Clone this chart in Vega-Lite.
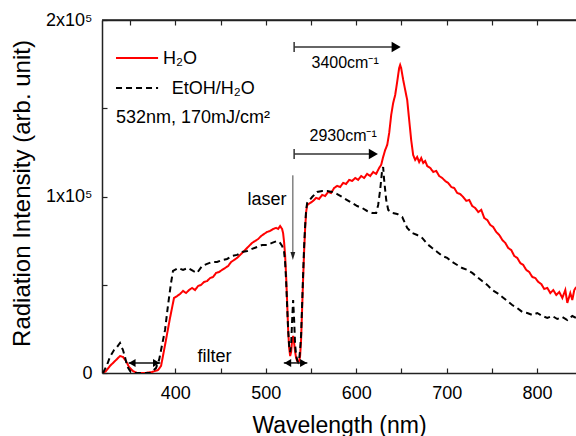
{
  "$schema": "https://vega.github.io/schema/vega-lite/v6.json",
  "width": 474,
  "height": 353,
  "autosize": "none",
  "padding": {"left": 102, "top": 20, "right": 0, "bottom": 63},
  "config": {"view": {"stroke": null}, "font": "Liberation Sans"},
  "datasets": {
    "curves": [
      {"wl":320.1,"I":0,"s":"H2O"},{"wl":323.4,"I":1100,"s":"H2O"},{"wl":327.8,"I":4000,"s":"H2O"},{"wl":333.4,"I":6800,"s":"H2O"},{"wl":338.9,"I":9600,"s":"H2O"},{"wl":342.2,"I":9100,"s":"H2O"},{"wl":345.5,"I":6800,"s":"H2O"},{"wl":348.9,"I":3400,"s":"H2O"},{"wl":353.3,"I":1100,"s":"H2O"},{"wl":357.7,"I":0,"s":"H2O"},{"wl":366.6,"I":0,"s":"H2O"},{"wl":374.3,"I":600,"s":"H2O"},{"wl":381.0,"I":1700,"s":"H2O"},{"wl":384.3,"I":4000,"s":"H2O"},{"wl":388.7,"I":15900,"s":"H2O"},{"wl":394.2,"I":31200,"s":"H2O"},{"wl":398.6,"I":42500,"s":"H2O"},{"wl":402.0,"I":43600,"s":"H2O"},{"wl":405.3,"I":44800,"s":"H2O"},{"wl":408.6,"I":46500,"s":"H2O"},{"wl":411.9,"I":45300,"s":"H2O"},{"wl":415.2,"I":47000,"s":"H2O"},{"wl":418.6,"I":48200,"s":"H2O"},{"wl":421.9,"I":47000,"s":"H2O"},{"wl":425.2,"I":49300,"s":"H2O"},{"wl":428.5,"I":49900,"s":"H2O"},{"wl":431.8,"I":51600,"s":"H2O"},{"wl":435.2,"I":52100,"s":"H2O"},{"wl":438.5,"I":53800,"s":"H2O"},{"wl":441.8,"I":54400,"s":"H2O"},{"wl":445.1,"I":56700,"s":"H2O"},{"wl":448.4,"I":57200,"s":"H2O"},{"wl":451.7,"I":58400,"s":"H2O"},{"wl":455.1,"I":59500,"s":"H2O"},{"wl":458.4,"I":60600,"s":"H2O"},{"wl":461.7,"I":62900,"s":"H2O"},{"wl":465.0,"I":64000,"s":"H2O"},{"wl":468.3,"I":65200,"s":"H2O"},{"wl":471.7,"I":66900,"s":"H2O"},{"wl":475.0,"I":68600,"s":"H2O"},{"wl":478.3,"I":70300,"s":"H2O"},{"wl":481.6,"I":72000,"s":"H2O"},{"wl":484.9,"I":73700,"s":"H2O"},{"wl":488.3,"I":74800,"s":"H2O"},{"wl":491.6,"I":75900,"s":"H2O"},{"wl":494.9,"I":77600,"s":"H2O"},{"wl":498.2,"I":78800,"s":"H2O"},{"wl":501.5,"I":79900,"s":"H2O"},{"wl":504.8,"I":80500,"s":"H2O"},{"wl":508.2,"I":81600,"s":"H2O"},{"wl":511.5,"I":82200,"s":"H2O"},{"wl":513.7,"I":81600,"s":"H2O"},{"wl":515.9,"I":83300,"s":"H2O"},{"wl":518.1,"I":81600,"s":"H2O"},{"wl":519.2,"I":79300,"s":"H2O"},{"wl":520.3,"I":74200,"s":"H2O"},{"wl":521.4,"I":66900,"s":"H2O"},{"wl":522.5,"I":55500,"s":"H2O"},{"wl":523.6,"I":41400,"s":"H2O"},{"wl":524.8,"I":24400,"s":"H2O"},{"wl":525.9,"I":14200,"s":"H2O"},{"wl":527.0,"I":9600,"s":"H2O"},{"wl":528.1,"I":11900,"s":"H2O"},{"wl":529.2,"I":18700,"s":"H2O"},{"wl":530.3,"I":21000,"s":"H2O"},{"wl":531.4,"I":17000,"s":"H2O"},{"wl":532.5,"I":11900,"s":"H2O"},{"wl":533.6,"I":8500,"s":"H2O"},{"wl":534.7,"I":6800,"s":"H2O"},{"wl":535.8,"I":6200,"s":"H2O"},{"wl":536.9,"I":6800,"s":"H2O"},{"wl":538.0,"I":9600,"s":"H2O"},{"wl":539.1,"I":18700,"s":"H2O"},{"wl":540.2,"I":35700,"s":"H2O"},{"wl":541.3,"I":52700,"s":"H2O"},{"wl":542.5,"I":69700,"s":"H2O"},{"wl":543.6,"I":82200,"s":"H2O"},{"wl":544.7,"I":91200,"s":"H2O"},{"wl":545.8,"I":95200,"s":"H2O"},{"wl":549.1,"I":96300,"s":"H2O"},{"wl":552.4,"I":97500,"s":"H2O"},{"wl":555.7,"I":99200,"s":"H2O"},{"wl":559.0,"I":98600,"s":"H2O"},{"wl":562.4,"I":100900,"s":"H2O"},{"wl":565.7,"I":100300,"s":"H2O"},{"wl":569.0,"I":102600,"s":"H2O"},{"wl":572.3,"I":102000,"s":"H2O"},{"wl":575.6,"I":104800,"s":"H2O"},{"wl":579.0,"I":106000,"s":"H2O"},{"wl":582.3,"I":105400,"s":"H2O"},{"wl":585.6,"I":107700,"s":"H2O"},{"wl":588.9,"I":107100,"s":"H2O"},{"wl":592.2,"I":109400,"s":"H2O"},{"wl":595.6,"I":108800,"s":"H2O"},{"wl":598.9,"I":110500,"s":"H2O"},{"wl":602.2,"I":109400,"s":"H2O"},{"wl":605.5,"I":111600,"s":"H2O"},{"wl":608.8,"I":110500,"s":"H2O"},{"wl":612.1,"I":112800,"s":"H2O"},{"wl":615.5,"I":111600,"s":"H2O"},{"wl":618.8,"I":113900,"s":"H2O"},{"wl":622.1,"I":112800,"s":"H2O"},{"wl":625.4,"I":116200,"s":"H2O"},{"wl":627.6,"I":117900,"s":"H2O"},{"wl":629.8,"I":122400,"s":"H2O"},{"wl":632.1,"I":126400,"s":"H2O"},{"wl":634.3,"I":129200,"s":"H2O"},{"wl":636.5,"I":136000,"s":"H2O"},{"wl":638.7,"I":146200,"s":"H2O"},{"wl":640.9,"I":153000,"s":"H2O"},{"wl":643.1,"I":157500,"s":"H2O"},{"wl":645.3,"I":164900,"s":"H2O"},{"wl":647.5,"I":172800,"s":"H2O"},{"wl":648.6,"I":174500,"s":"H2O"},{"wl":649.7,"I":172800,"s":"H2O"},{"wl":652.0,"I":166000,"s":"H2O"},{"wl":654.2,"I":160300,"s":"H2O"},{"wl":656.4,"I":154700,"s":"H2O"},{"wl":658.6,"I":143300,"s":"H2O"},{"wl":660.8,"I":132000,"s":"H2O"},{"wl":663.0,"I":123500,"s":"H2O"},{"wl":665.2,"I":120700,"s":"H2O"},{"wl":667.4,"I":122400,"s":"H2O"},{"wl":669.6,"I":119500,"s":"H2O"},{"wl":671.9,"I":121800,"s":"H2O"},{"wl":674.1,"I":119000,"s":"H2O"},{"wl":676.3,"I":120100,"s":"H2O"},{"wl":678.5,"I":117300,"s":"H2O"},{"wl":681.8,"I":116200,"s":"H2O"},{"wl":685.2,"I":113900,"s":"H2O"},{"wl":688.5,"I":114500,"s":"H2O"},{"wl":691.8,"I":111600,"s":"H2O"},{"wl":695.1,"I":110500,"s":"H2O"},{"wl":698.4,"I":108800,"s":"H2O"},{"wl":701.7,"I":107700,"s":"H2O"},{"wl":705.1,"I":105400,"s":"H2O"},{"wl":708.4,"I":104800,"s":"H2O"},{"wl":711.7,"I":102000,"s":"H2O"},{"wl":715.0,"I":101400,"s":"H2O"},{"wl":718.3,"I":99700,"s":"H2O"},{"wl":721.7,"I":97500,"s":"H2O"},{"wl":725.0,"I":98000,"s":"H2O"},{"wl":728.3,"I":94600,"s":"H2O"},{"wl":731.6,"I":93500,"s":"H2O"},{"wl":734.9,"I":91200,"s":"H2O"},{"wl":738.3,"I":92400,"s":"H2O"},{"wl":741.6,"I":87800,"s":"H2O"},{"wl":744.9,"I":86700,"s":"H2O"},{"wl":748.2,"I":83900,"s":"H2O"},{"wl":751.5,"I":82700,"s":"H2O"},{"wl":754.8,"I":79900,"s":"H2O"},{"wl":758.2,"I":78200,"s":"H2O"},{"wl":761.5,"I":75400,"s":"H2O"},{"wl":764.8,"I":73700,"s":"H2O"},{"wl":768.1,"I":70800,"s":"H2O"},{"wl":771.4,"I":69700,"s":"H2O"},{"wl":774.8,"I":66300,"s":"H2O"},{"wl":778.1,"I":65200,"s":"H2O"},{"wl":781.4,"I":62300,"s":"H2O"},{"wl":784.7,"I":61200,"s":"H2O"},{"wl":788.0,"I":58400,"s":"H2O"},{"wl":791.3,"I":57200,"s":"H2O"},{"wl":794.7,"I":54400,"s":"H2O"},{"wl":798.0,"I":53800,"s":"H2O"},{"wl":801.3,"I":51600,"s":"H2O"},{"wl":804.6,"I":50400,"s":"H2O"},{"wl":807.9,"I":47600,"s":"H2O"},{"wl":811.3,"I":48200,"s":"H2O"},{"wl":814.6,"I":45300,"s":"H2O"},{"wl":817.9,"I":47000,"s":"H2O"},{"wl":821.2,"I":44200,"s":"H2O"},{"wl":824.5,"I":45900,"s":"H2O"},{"wl":827.9,"I":42500,"s":"H2O"},{"wl":831.2,"I":47000,"s":"H2O"},{"wl":833.4,"I":39700,"s":"H2O"},{"wl":836.7,"I":45300,"s":"H2O"},{"wl":838.9,"I":41400,"s":"H2O"},{"wl":841.1,"I":47000,"s":"H2O"},{"wl":843.3,"I":48700,"s":"H2O"},
      {"wl":320.1,"I":0,"s":"EtOH/H2O"},{"wl":324.5,"I":4500,"s":"EtOH/H2O"},{"wl":327.8,"I":9100,"s":"EtOH/H2O"},{"wl":332.3,"I":13000,"s":"EtOH/H2O"},{"wl":335.6,"I":14700,"s":"EtOH/H2O"},{"wl":338.9,"I":17000,"s":"EtOH/H2O"},{"wl":342.2,"I":13000,"s":"EtOH/H2O"},{"wl":344.4,"I":9100,"s":"EtOH/H2O"},{"wl":346.7,"I":4000,"s":"EtOH/H2O"},{"wl":350.0,"I":1100,"s":"EtOH/H2O"},{"wl":355.5,"I":0,"s":"EtOH/H2O"},{"wl":372.1,"I":0,"s":"EtOH/H2O"},{"wl":378.7,"I":2800,"s":"EtOH/H2O"},{"wl":382.1,"I":7400,"s":"EtOH/H2O"},{"wl":385.4,"I":15900,"s":"EtOH/H2O"},{"wl":388.7,"I":24400,"s":"EtOH/H2O"},{"wl":392.0,"I":38500,"s":"EtOH/H2O"},{"wl":395.3,"I":51000,"s":"EtOH/H2O"},{"wl":397.5,"I":57800,"s":"EtOH/H2O"},{"wl":403.1,"I":59500,"s":"EtOH/H2O"},{"wl":408.6,"I":58400,"s":"EtOH/H2O"},{"wl":414.1,"I":59500,"s":"EtOH/H2O"},{"wl":419.7,"I":57800,"s":"EtOH/H2O"},{"wl":424.1,"I":56700,"s":"EtOH/H2O"},{"wl":429.6,"I":60600,"s":"EtOH/H2O"},{"wl":435.2,"I":61800,"s":"EtOH/H2O"},{"wl":440.7,"I":62900,"s":"EtOH/H2O"},{"wl":446.2,"I":62900,"s":"EtOH/H2O"},{"wl":451.7,"I":64000,"s":"EtOH/H2O"},{"wl":457.3,"I":64600,"s":"EtOH/H2O"},{"wl":462.8,"I":66300,"s":"EtOH/H2O"},{"wl":468.3,"I":66900,"s":"EtOH/H2O"},{"wl":473.9,"I":68600,"s":"EtOH/H2O"},{"wl":479.4,"I":69100,"s":"EtOH/H2O"},{"wl":484.9,"I":70300,"s":"EtOH/H2O"},{"wl":490.5,"I":71400,"s":"EtOH/H2O"},{"wl":496.0,"I":72500,"s":"EtOH/H2O"},{"wl":501.5,"I":72500,"s":"EtOH/H2O"},{"wl":507.0,"I":73700,"s":"EtOH/H2O"},{"wl":512.6,"I":74800,"s":"EtOH/H2O"},{"wl":515.9,"I":73700,"s":"EtOH/H2O"},{"wl":518.1,"I":72000,"s":"EtOH/H2O"},{"wl":520.3,"I":68600,"s":"EtOH/H2O"},{"wl":521.4,"I":62900,"s":"EtOH/H2O"},{"wl":522.5,"I":52700,"s":"EtOH/H2O"},{"wl":523.6,"I":38500,"s":"EtOH/H2O"},{"wl":524.8,"I":24400,"s":"EtOH/H2O"},{"wl":525.9,"I":15300,"s":"EtOH/H2O"},{"wl":527.0,"I":11900,"s":"EtOH/H2O"},{"wl":528.1,"I":15900,"s":"EtOH/H2O"},{"wl":529.2,"I":30000,"s":"EtOH/H2O"},{"wl":530.3,"I":41400,"s":"EtOH/H2O"},{"wl":531.4,"I":30000,"s":"EtOH/H2O"},{"wl":532.5,"I":15900,"s":"EtOH/H2O"},{"wl":533.6,"I":10200,"s":"EtOH/H2O"},{"wl":534.7,"I":7400,"s":"EtOH/H2O"},{"wl":535.8,"I":6200,"s":"EtOH/H2O"},{"wl":536.9,"I":7400,"s":"EtOH/H2O"},{"wl":538.0,"I":13000,"s":"EtOH/H2O"},{"wl":539.1,"I":21500,"s":"EtOH/H2O"},{"wl":540.2,"I":38500,"s":"EtOH/H2O"},{"wl":541.3,"I":55500,"s":"EtOH/H2O"},{"wl":542.5,"I":72500,"s":"EtOH/H2O"},{"wl":543.6,"I":83900,"s":"EtOH/H2O"},{"wl":544.7,"I":92400,"s":"EtOH/H2O"},{"wl":545.8,"I":96300,"s":"EtOH/H2O"},{"wl":551.3,"I":99700,"s":"EtOH/H2O"},{"wl":556.8,"I":102600,"s":"EtOH/H2O"},{"wl":562.4,"I":103100,"s":"EtOH/H2O"},{"wl":567.9,"I":103100,"s":"EtOH/H2O"},{"wl":573.4,"I":102600,"s":"EtOH/H2O"},{"wl":579.0,"I":101400,"s":"EtOH/H2O"},{"wl":584.5,"I":99700,"s":"EtOH/H2O"},{"wl":590.0,"I":98000,"s":"EtOH/H2O"},{"wl":595.6,"I":96300,"s":"EtOH/H2O"},{"wl":601.1,"I":94600,"s":"EtOH/H2O"},{"wl":606.6,"I":93500,"s":"EtOH/H2O"},{"wl":612.1,"I":91800,"s":"EtOH/H2O"},{"wl":617.7,"I":90700,"s":"EtOH/H2O"},{"wl":622.1,"I":90700,"s":"EtOH/H2O"},{"wl":624.3,"I":95200,"s":"EtOH/H2O"},{"wl":626.5,"I":103700,"s":"EtOH/H2O"},{"wl":628.7,"I":115000,"s":"EtOH/H2O"},{"wl":629.8,"I":116700,"s":"EtOH/H2O"},{"wl":630.9,"I":109400,"s":"EtOH/H2O"},{"wl":633.2,"I":98000,"s":"EtOH/H2O"},{"wl":635.4,"I":92400,"s":"EtOH/H2O"},{"wl":639.8,"I":90700,"s":"EtOH/H2O"},{"wl":645.3,"I":90100,"s":"EtOH/H2O"},{"wl":650.9,"I":88400,"s":"EtOH/H2O"},{"wl":656.4,"I":82200,"s":"EtOH/H2O"},{"wl":661.9,"I":79300,"s":"EtOH/H2O"},{"wl":667.4,"I":78200,"s":"EtOH/H2O"},{"wl":673.0,"I":76500,"s":"EtOH/H2O"},{"wl":678.5,"I":73100,"s":"EtOH/H2O"},{"wl":684.0,"I":70800,"s":"EtOH/H2O"},{"wl":689.6,"I":68600,"s":"EtOH/H2O"},{"wl":695.1,"I":66300,"s":"EtOH/H2O"},{"wl":700.6,"I":65200,"s":"EtOH/H2O"},{"wl":706.2,"I":62900,"s":"EtOH/H2O"},{"wl":711.7,"I":61200,"s":"EtOH/H2O"},{"wl":717.2,"I":59500,"s":"EtOH/H2O"},{"wl":722.8,"I":58400,"s":"EtOH/H2O"},{"wl":728.3,"I":56700,"s":"EtOH/H2O"},{"wl":733.8,"I":54400,"s":"EtOH/H2O"},{"wl":739.3,"I":52100,"s":"EtOH/H2O"},{"wl":744.9,"I":49900,"s":"EtOH/H2O"},{"wl":750.4,"I":47000,"s":"EtOH/H2O"},{"wl":755.9,"I":45300,"s":"EtOH/H2O"},{"wl":761.5,"I":43100,"s":"EtOH/H2O"},{"wl":767.0,"I":40800,"s":"EtOH/H2O"},{"wl":772.5,"I":38500,"s":"EtOH/H2O"},{"wl":778.1,"I":36800,"s":"EtOH/H2O"},{"wl":783.6,"I":34600,"s":"EtOH/H2O"},{"wl":789.1,"I":34000,"s":"EtOH/H2O"},{"wl":794.7,"I":32900,"s":"EtOH/H2O"},{"wl":800.2,"I":34000,"s":"EtOH/H2O"},{"wl":805.7,"I":32300,"s":"EtOH/H2O"},{"wl":811.3,"I":31200,"s":"EtOH/H2O"},{"wl":816.8,"I":32300,"s":"EtOH/H2O"},{"wl":822.3,"I":30600,"s":"EtOH/H2O"},{"wl":827.9,"I":31700,"s":"EtOH/H2O"},{"wl":833.4,"I":30000,"s":"EtOH/H2O"},{"wl":838.9,"I":32300,"s":"EtOH/H2O"},{"wl":843.3,"I":31200,"s":"EtOH/H2O"}
    ],
    "frame": [
      {"x":319,"x2":843,"y":200000}
    ],
    "legendLines": [
      {"x":334.5,"x2":381,"y":178500,"s":"H2O"},
      {"x":334.5,"x2":381,"y":161500,"s":"EtOH/H2O"}
    ],
    "labels18": [
      {"x":386.5,"y":178000,"t":"H₂O"},
      {"x":396.0,"y":161000,"t":"EtOH/H₂O"},
      {"x":334.5,"y":144500,"t":"532nm, 170mJ/cm²"}
    ],
    "labelsCenter18": [
      {"x":501.5,"y":98000,"t":"laser"},
      {"x":443.4,"y":9000,"t":"filter"}
    ],
    "labelsCenter16": [
      {"x":587.8,"y":175600,"t":"3400cm⁻¹"},
      {"x":585.6,"y":134300,"t":"2930cm⁻¹"}
    ],
    "hArrows": [
      {"x":531.4,"x2":644.5,"y":184700},
      {"x":531.4,"x2":619.5,"y":124100}
    ],
    "hBars": [
      {"x":531.4,"y":187500,"y2":181800},
      {"x":531.4,"y":126900,"y2":121200}
    ],
    "bigHeads": [
      {"x":644.2,"y":184700},
      {"x":619.0,"y":124100}
    ],
    "dblArrows": [
      {"x":348.5,"x2":383.5,"y":5700},
      {"x":520.0,"x2":546.0,"y":5700}
    ],
    "leftHeads": [
      {"x":352.3,"y":5700},
      {"x":524.3,"y":5700}
    ],
    "rightHeads": [
      {"x":379.2,"y":5700},
      {"x":541.8,"y":5700}
    ],
    "vArrow": [
      {"x":530.0,"y":112000,"y2":66000}
    ],
    "downHead": [
      {"x":530.0,"y":66300}
    ]
  },
  "resolve": {"axis": {"x": "independent", "y": "independent"}},
  "layer": [
    {
      "data": {"name": "frame"},
      "mark": {"type": "rule", "strokeWidth": 1.5, "color": "#222"},
      "encoding": {
        "x": {"field": "x", "type": "quantitative",
          "scale": {"domain": [319, 843], "nice": false, "zero": false},
          "axis": {"orient": "top", "values": [350,400,450,500,550,600,650,700,750,800], "labels": false,
            "tickSize": -5, "domainColor": "#222", "domainWidth": 1.5, "tickColor": "#222", "tickWidth": 1.2, "grid": false, "title": null}},
        "x2": {"field": "x2"},
        "y": {"field": "y", "type": "quantitative",
          "scale": {"domain": [0, 200000], "nice": false},
          "axis": {"values": [0, 50000, 100000, 150000, 200000],
            "labelExpr": "datum.value === 0 ? '0' : datum.value === 100000 ? '1x10⁵' : datum.value === 200000 ? '2x10⁵' : ''",
            "tickSize": -5, "labelPadding": 15, "labelFontSize": 18, "labelColor": "#000", "labelFlush": false,
            "domainColor": "#222", "domainWidth": 1.5, "tickColor": "#222", "tickWidth": 1.2, "grid": false,
            "title": "Radiation Intensity (arb. unit)", "titleFontSize": 24, "titleFontWeight": "normal", "titleColor": "#000",
            "titleAngle": 270, "titleX": -80, "titleY": 173, "titleAlign": "center", "titleBaseline": "middle"}}
      }
    },
    {
      "data": {"name": "curves"},
      "mark": {"type": "line", "strokeWidth": 2, "clip": true},
      "encoding": {
        "x": {"field": "wl", "type": "quantitative",
          "axis": {"orient": "bottom", "values": [350,400,450,500,550,600,650,700,750,800],
            "labelExpr": "datum.value % 100 === 0 ? datum.label : ''", "format": "d",
            "tickSize": -5, "labelPadding": 16, "labelFontSize": 18, "labelColor": "#000", "labelFlush": false,
            "domainColor": "#222", "domainWidth": 1.5, "tickColor": "#222", "tickWidth": 1.2, "grid": false,
            "title": "Wavelength (nm)", "titleFontSize": 23, "titleFontWeight": "normal", "titleColor": "#000",
            "titleY": 59, "titleBaseline": "alphabetic"}},
        "y": {"field": "I", "type": "quantitative", "axis": null},
        "color": {"field": "s", "type": "nominal", "scale": {"domain": ["H2O", "EtOH/H2O"], "range": ["#ff0000", "#000000"]}, "legend": null},
        "strokeDash": {"field": "s", "type": "nominal", "scale": {"domain": ["H2O", "EtOH/H2O"], "range": [[1, 0], [6, 4]]}, "legend": null}
      }
    },
    {
      "data": {"name": "legendLines"},
      "mark": {"type": "rule", "strokeWidth": 2},
      "encoding": {
        "x": {"field": "x", "type": "quantitative", "axis": null},
        "x2": {"field": "x2"},
        "y": {"field": "y", "type": "quantitative", "axis": null},
        "color": {"field": "s", "type": "nominal", "legend": null},
        "strokeDash": {"field": "s", "type": "nominal", "legend": null}
      }
    },
    {
      "data": {"name": "labels18"},
      "mark": {"type": "text", "fontSize": 18, "align": "left", "baseline": "middle", "color": "#000"},
      "encoding": {
        "x": {"field": "x", "type": "quantitative", "axis": null},
        "y": {"field": "y", "type": "quantitative", "axis": null},
        "text": {"field": "t"}
      }
    },
    {
      "data": {"name": "labelsCenter18"},
      "mark": {"type": "text", "fontSize": 18, "align": "center", "baseline": "middle", "color": "#000"},
      "encoding": {
        "x": {"field": "x", "type": "quantitative", "axis": null},
        "y": {"field": "y", "type": "quantitative", "axis": null},
        "text": {"field": "t"}
      }
    },
    {
      "data": {"name": "labelsCenter16"},
      "mark": {"type": "text", "fontSize": 16, "align": "center", "baseline": "middle", "color": "#000"},
      "encoding": {
        "x": {"field": "x", "type": "quantitative", "axis": null},
        "y": {"field": "y", "type": "quantitative", "axis": null},
        "text": {"field": "t"}
      }
    },
    {
      "data": {"name": "hArrows"},
      "mark": {"type": "rule", "strokeWidth": 1.5, "color": "#333"},
      "encoding": {
        "x": {"field": "x", "type": "quantitative", "axis": null},
        "x2": {"field": "x2"},
        "y": {"field": "y", "type": "quantitative", "axis": null}
      }
    },
    {
      "data": {"name": "hBars"},
      "mark": {"type": "rule", "strokeWidth": 1.5, "color": "#333"},
      "encoding": {
        "x": {"field": "x", "type": "quantitative", "axis": null},
        "y": {"field": "y", "type": "quantitative", "axis": null},
        "y2": {"field": "y2"}
      }
    },
    {
      "data": {"name": "bigHeads"},
      "mark": {"type": "point", "shape": "triangle-right", "size": 110, "filled": true, "color": "#000", "opacity": 1},
      "encoding": {
        "x": {"field": "x", "type": "quantitative", "axis": null},
        "y": {"field": "y", "type": "quantitative", "axis": null}
      }
    },
    {
      "data": {"name": "dblArrows"},
      "mark": {"type": "rule", "strokeWidth": 1.5, "color": "#111"},
      "encoding": {
        "x": {"field": "x", "type": "quantitative", "axis": null},
        "x2": {"field": "x2"},
        "y": {"field": "y", "type": "quantitative", "axis": null}
      }
    },
    {
      "data": {"name": "leftHeads"},
      "mark": {"type": "point", "shape": "triangle-left", "size": 64, "filled": true, "color": "#000", "opacity": 1},
      "encoding": {
        "x": {"field": "x", "type": "quantitative", "axis": null},
        "y": {"field": "y", "type": "quantitative", "axis": null}
      }
    },
    {
      "data": {"name": "rightHeads"},
      "mark": {"type": "point", "shape": "triangle-right", "size": 64, "filled": true, "color": "#000", "opacity": 1},
      "encoding": {
        "x": {"field": "x", "type": "quantitative", "axis": null},
        "y": {"field": "y", "type": "quantitative", "axis": null}
      }
    },
    {
      "data": {"name": "vArrow"},
      "mark": {"type": "rule", "strokeWidth": 1, "color": "#444"},
      "encoding": {
        "x": {"field": "x", "type": "quantitative", "axis": null},
        "y": {"field": "y", "type": "quantitative", "axis": null},
        "y2": {"field": "y2"}
      }
    },
    {
      "data": {"name": "downHead"},
      "mark": {"type": "point", "shape": "M-0.6,-1L0.6,-1L0,1Z", "size": 64, "filled": true, "color": "#222", "opacity": 1},
      "encoding": {
        "x": {"field": "x", "type": "quantitative", "axis": null},
        "y": {"field": "y", "type": "quantitative", "axis": null}
      }
    }
  ]
}
